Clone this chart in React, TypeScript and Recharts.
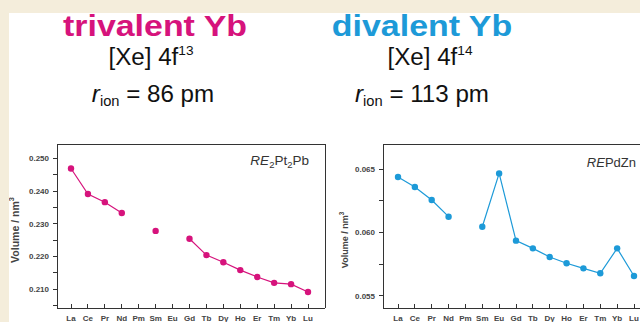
import { LineChart, Line, XAxis, YAxis, Label, CartesianGrid } from "recharts";

const categories = ["La", "Ce", "Pr", "Nd", "Pm", "Sm", "Eu", "Gd", "Tb", "Dy", "Ho", "Er", "Tm", "Yb", "Lu"];

// RE2Pt2Pb cell volume (nm^3), trivalent Yb
const pt2pbVolume = [0.2469, 0.2391, 0.2366, 0.2333, null, 0.2278, null, 0.2254, 0.2204, 0.2182, 0.2158, 0.2137, 0.2119, 0.2115, 0.2091];
// REPdZn cell volume (nm^3), divalent Yb
const pdznVolume = [0.0644, 0.0636, 0.06258, 0.06126, null, 0.06047, 0.06468, 0.05937, 0.05876, 0.05808, 0.05758, 0.05718, 0.05679, 0.05876, 0.05658];

const pt2pbTicks = [0.205, 0.21, 0.215, 0.22, 0.225, 0.23, 0.235, 0.24, 0.245, 0.25];
const pdznTicks = [0.055, 0.0575, 0.06, 0.0625, 0.065];

const MAGENTA = "#d6137c";
const BLUE = "#1d9ad8";
const AXIS = "#333";
const FONT = "'Liberation Sans', Arial, sans-serif";

const toRows = (vals: (number | null)[]) => categories.map((c, i) => ({ el: c, v: vals[i] }));

interface PanelProps {
  vals: (number | null)[];
  color: string;
  ticks: number[];
  domain: [number, number];
  step: number; // label only ticks that are multiples of this
  padLeft: number;
  padRight: number;
  yLabelSize: number;
  yLabelX: number;
  yLabelY: number;
}

function Panel({ vals, color, ticks, domain, step, padLeft, padRight, yLabelSize, yLabelX, yLabelY }: PanelProps) {
  const fmt = (v: number) => (Math.abs(v / step - Math.round(v / step)) < 1e-6 ? v.toFixed(3) : "");
  const tickStyle = { fontSize: 8, fontWeight: 700, fill: "#444", fontFamily: FONT };
  const lineStyle = { stroke: AXIS, strokeWidth: 1, shapeRendering: "crispEdges" };
  return (
    <LineChart width={340} height={192} data={toRows(vals)} margin={{ top: 14, right: 15, left: 0, bottom: 0 }}>
      {/* plot frame */}
      <CartesianGrid
        stroke={AXIS}
        strokeWidth={1}
        shapeRendering="crispEdges"
        horizontalCoordinatesGenerator={({ offset }: any) => [offset.top, offset.top + offset.height]}
        verticalCoordinatesGenerator={({ offset }: any) => [offset.left, offset.left + offset.width]}
      />
      <XAxis
        dataKey="el"
        height={14}
        interval={0}
        padding={{ left: padLeft, right: padRight }}
        tickSize={-4}
        tickMargin={11}
        axisLine={lineStyle}
        tickLine={lineStyle}
        tick={tickStyle}
      />
      <YAxis
        width={57}
        type="number"
        domain={domain}
        allowDataOverflow
        ticks={ticks}
        tickFormatter={fmt}
        tickSize={4}
        tickMargin={4}
        axisLine={lineStyle}
        tickLine={lineStyle}
        tick={tickStyle}
      >
        <Label
          content={(p: any) => {
            const vb = p.viewBox || {};
            const x = (vb.x || 0) + yLabelX;
            const y = (vb.y || 0) + yLabelY;
            return (
              <text
                x={x}
                y={y}
                transform={`rotate(-90, ${x}, ${y})`}
                textAnchor="middle"
                dominantBaseline="central"
                fontSize={yLabelSize}
                fontWeight={700}
                fill="#444"
                fontFamily={FONT}
              >
                Volume / nm
                <tspan fontSize={yLabelSize * 0.7} dy={-yLabelSize * 0.4}>
                  3
                </tspan>
              </text>
            );
          }}
        />
      </YAxis>
      <Line
        dataKey="v"
        stroke={color}
        strokeWidth={1.2}
        connectNulls={false}
        dot={{ r: 3.2, fill: color, stroke: color, strokeWidth: 0 }}
        isAnimationActive={false}
      />
    </LineChart>
  );
}

export default function App() {
  return (
    <div
      style={{
        position: "absolute",
        left: 0,
        top: 0,
        width: 640,
        height: 322,
        overflow: "hidden",
        background: "#fff",
        fontFamily: FONT,
      }}
    >
      <div style={{ position: "absolute", left: 0, top: 130 }}>
        <Panel
          vals={pt2pbVolume}
          color={MAGENTA}
          ticks={pt2pbTicks}
          domain={[0.2042, 0.2544]}
          step={0.01}
          padLeft={14}
          padRight={17}
          yLabelSize={10.5}
          yLabelX={15}
          yLabelY={86}
        />
      </div>
      <div style={{ position: "absolute", left: 326, top: 130 }}>
        <Panel
          vals={pdznVolume}
          color={BLUE}
          ticks={pdznTicks}
          domain={[0.05405, 0.067]}
          step={0.005}
          padLeft={15}
          padRight={17}
          yLabelSize={9}
          yLabelX={19}
          yLabelY={96}
        />
      </div>
      <svg width={640} height={322} style={{ position: "absolute", left: 0, top: 0, pointerEvents: "none" }} fontFamily={FONT}>
        <text transform="translate(155,36) scale(1.17,1)" textAnchor="middle" fontSize={29} fontWeight={700} fill={MAGENTA}>
          trivalent Yb
        </text>
        <text transform="translate(422,36) scale(1.17,1)" textAnchor="middle" fontSize={29} fontWeight={700} fill={BLUE}>
          divalent Yb
        </text>
        <text transform="translate(151,65) scale(1.05,1)" textAnchor="middle" fontSize={23} fill="#111">
          [Xe] 4f<tspan fontSize={13} dy={-10}>13</tspan>
        </text>
        <text transform="translate(430,65) scale(1.05,1)" textAnchor="middle" fontSize={23} fill="#111">
          [Xe] 4f<tspan fontSize={13} dy={-10}>14</tspan>
        </text>
        <text transform="translate(153,102) scale(1.05,1)" textAnchor="middle" fontSize={23} fill="#111">
          <tspan fontStyle="italic">r</tspan>
          <tspan fontSize={14} dy={4}>ion</tspan>
          <tspan dy={-4}> = 86 pm</tspan>
        </text>
        <text transform="translate(422,102) scale(1.05,1)" textAnchor="middle" fontSize={23} fill="#111">
          <tspan fontStyle="italic">r</tspan>
          <tspan fontSize={14} dy={4}>ion</tspan>
          <tspan dy={-4}> = 113 pm</tspan>
        </text>
        <text x={309} y={165} textAnchor="end" fontSize={13.5} fill="#333">
          <tspan fontStyle="italic">RE</tspan>
          <tspan fontSize={9.5} dy={3}>2</tspan>
          <tspan dy={-3}>Pt</tspan>
          <tspan fontSize={9.5} dy={3}>2</tspan>
          <tspan dy={-3}>Pb</tspan>
        </text>
        <text x={636} y={167} textAnchor="end" fontSize={13} fill="#333">
          <tspan fontStyle="italic">RE</tspan>PdZn
        </text>
      </svg>
      <div style={{ position: "absolute", left: 0, top: 0, width: 640, height: 13, background: "#f4eddb" }} />
      <div style={{ position: "absolute", left: 0, top: 0, width: 9, height: 322, background: "#f4eddb" }} />
    </div>
  );
}
